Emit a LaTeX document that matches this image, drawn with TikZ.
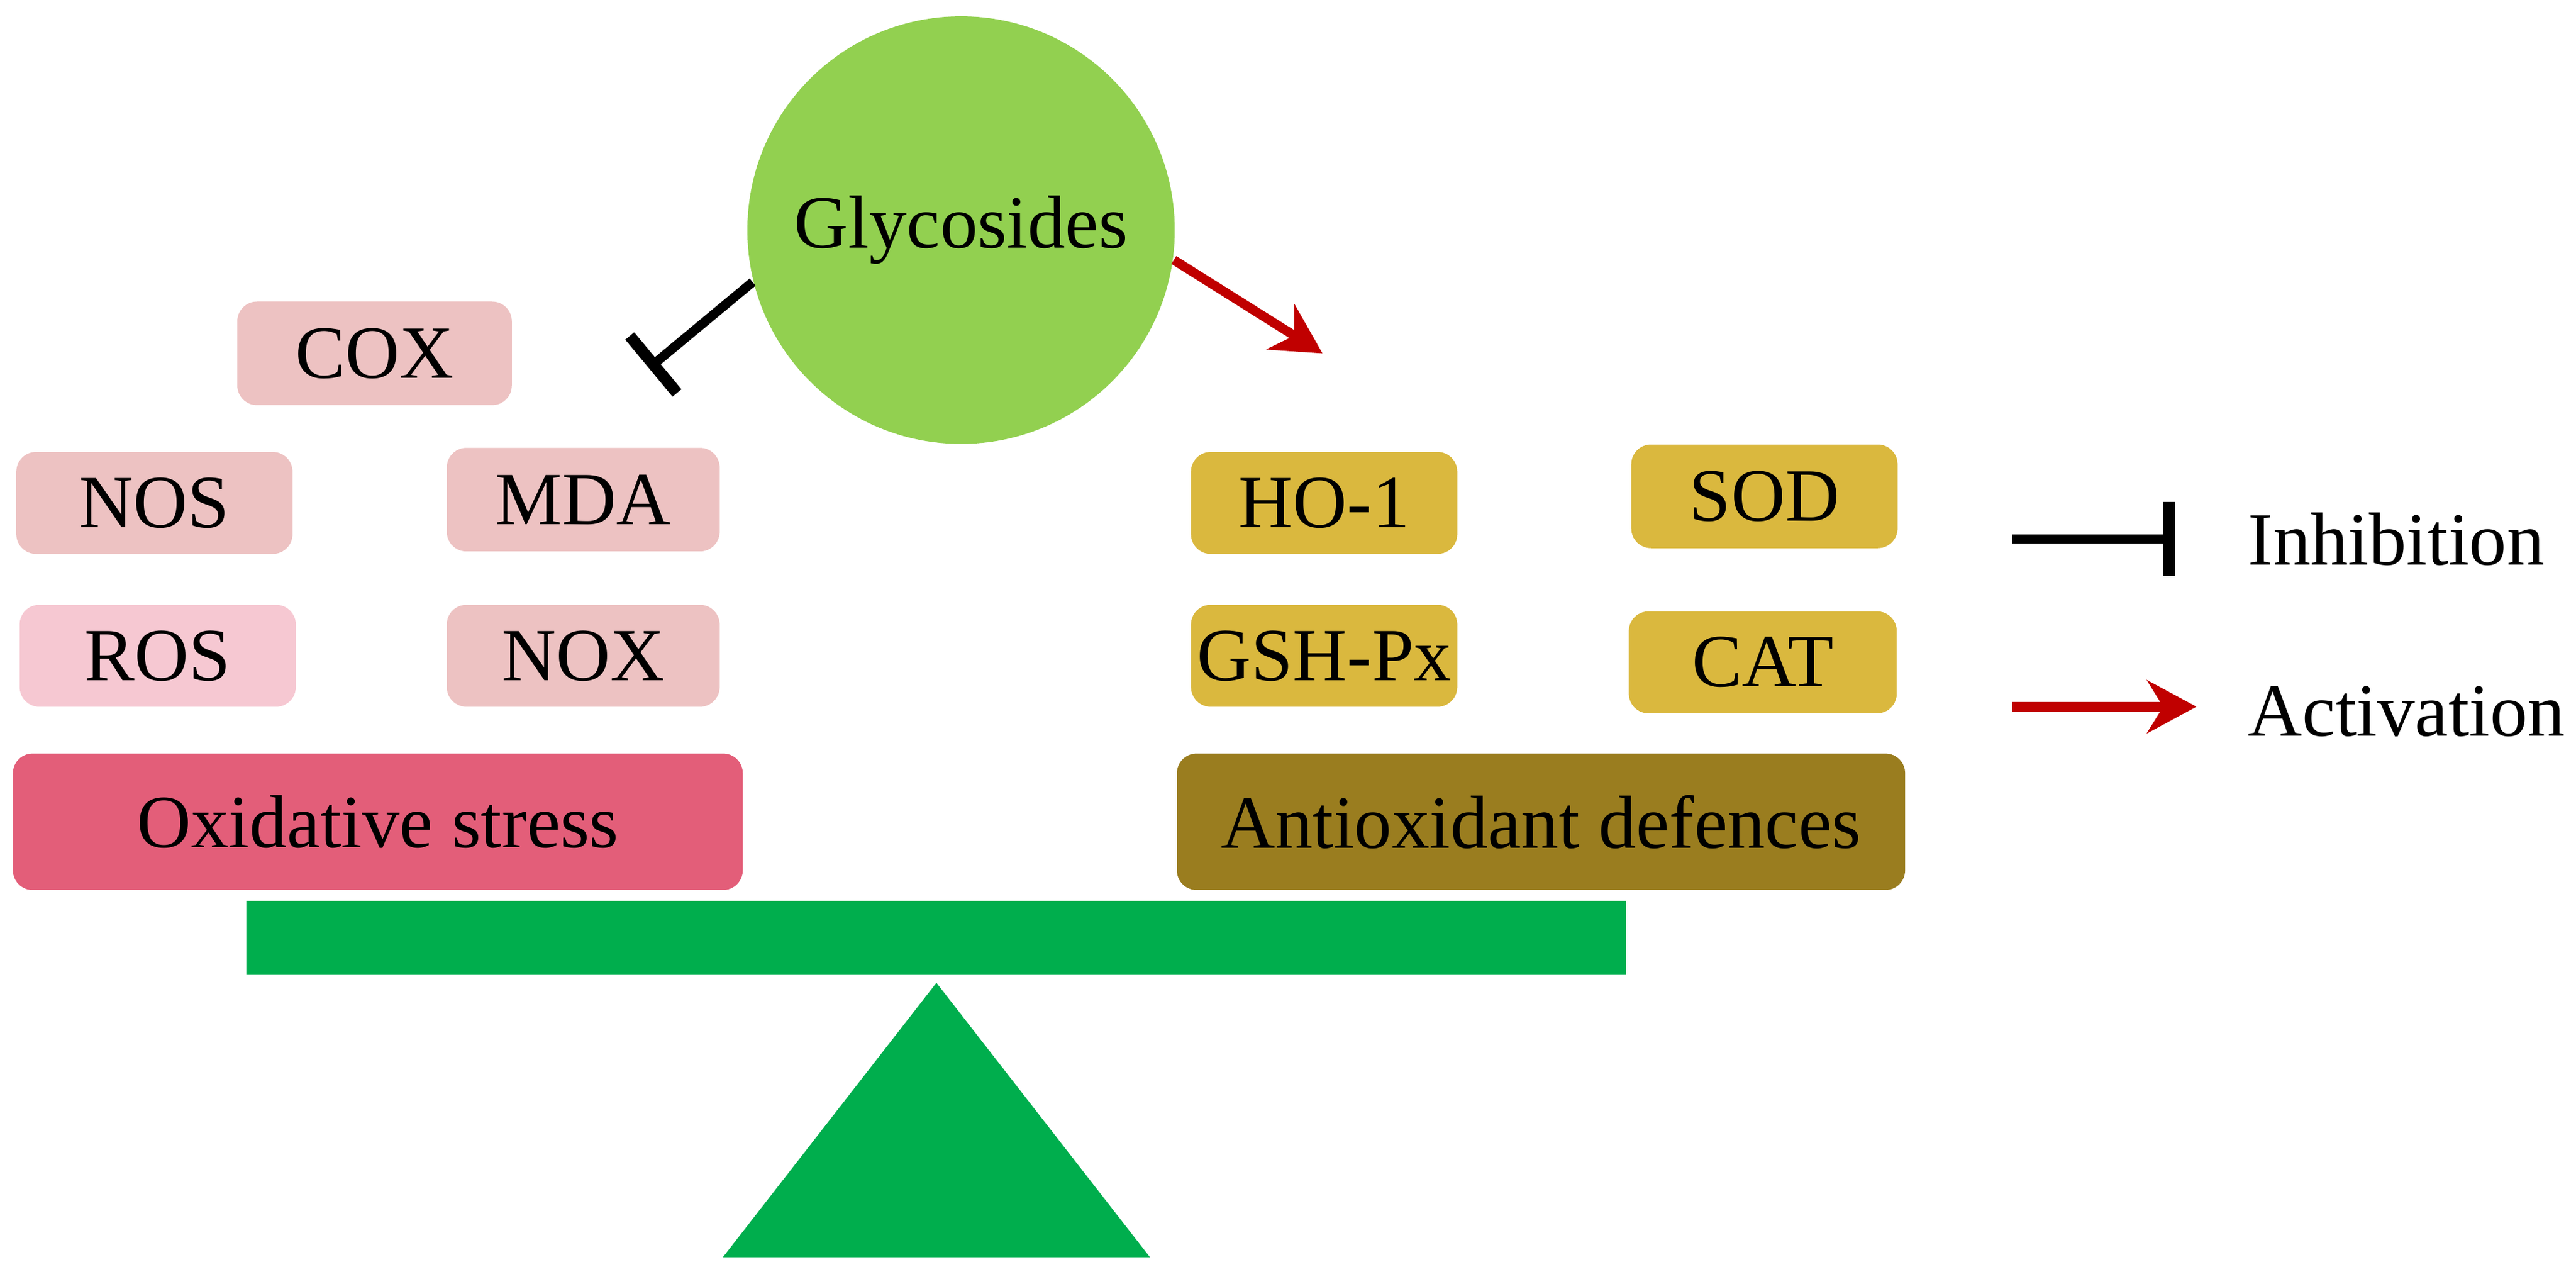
\documentclass[tikz,border=0pt]{standalone}
\usepackage{fontspec}
\setmainfont{Liberation Serif}
\usetikzlibrary{arrows.meta}
\begin{document}
\begin{tikzpicture}[x=0.01cm,y=-0.01cm,
  box/.style={rounded corners=0.12cm,inner sep=0pt,font=\fontsize{13}{15}\selectfont},
  pinkbox/.style={box,fill=pink1},
  goldbox/.style={box,fill=gold1},
  inh/.style={line width=1.6pt,-{Bar[width=0.45cm,line width=2pt]}},
  act/.style={line width=1.6pt,draw=red1,-{Stealth[length=0.3cm,width=0.32cm]}}]
\definecolor{pink1}{HTML}{EDC2C2}
\definecolor{pink2}{HTML}{F6C8D2}
\definecolor{stress}{HTML}{E35E79}
\definecolor{gold1}{HTML}{DAB83E}
\definecolor{gold2}{HTML}{9A7D1F}
\definecolor{green1}{HTML}{00AE4D}
\definecolor{gcirc}{HTML}{92D050}
\definecolor{red1}{HTML}{C00000}
\useasboundingbox (0,0) rectangle (1568,781);
\node[circle,fill=gcirc,minimum size=2.6cm,inner sep=0pt,font=\fontsize{13}{15}\selectfont] (g) at (585,140) {Glycosides};
\node[pinkbox,minimum width=1.67cm,minimum height=0.63cm] (cox) at (228,215) {COX};
\node[pinkbox,minimum width=1.68cm,minimum height=0.62cm] (nos) at (94,306) {NOS};
\node[pinkbox,minimum width=1.66cm,minimum height=0.63cm] (mda) at (355,304) {MDA};
\node[box,fill=pink2,minimum width=1.68cm,minimum height=0.62cm] (ros) at (96,399) {ROS};
\node[pinkbox,minimum width=1.66cm,minimum height=0.62cm] (nox) at (355,399) {NOX};
\node[box,fill=stress,minimum width=4.44cm,minimum height=0.83cm] (os) at (230,500) {Oxidative stress};
\node[goldbox,minimum width=1.62cm,minimum height=0.62cm] (ho) at (806,306) {HO-1};
\node[goldbox,minimum width=1.62cm,minimum height=0.63cm] (sod) at (1074,302) {SOD};
\node[goldbox,minimum width=1.62cm,minimum height=0.62cm] (gsh) at (806,399) {GSH-Px};
\node[goldbox,minimum width=1.63cm,minimum height=0.62cm] (cat) at (1073,403) {CAT};
\node[box,fill=gold2,minimum width=4.43cm,minimum height=0.83cm] (ad) at (938,500) {Antioxidant defences};
\fill[green1] (150,548) rectangle (990,593);
\fill[green1] (570,598) -- (700,765) -- (440,765) -- cycle;
\coordinate (ie) at (395,224);
\coordinate (ae) at (805,215);
\draw[inh] (g.194) -- (ie);
\draw[act] (g.-8) -- (ae);
\coordinate (l1a) at (1225,328); \coordinate (l1b) at (1324,328);
\coordinate (l2a) at (1225,430); \coordinate (l2b) at (1337,430);
\draw[inh] (l1a) -- (l1b);
\draw[act] (l2a) -- (l2b);
\node[font=\fontsize{13}{15}\selectfont,anchor=west] (ti) at (1356,328) {Inhibition};
\node[font=\fontsize{13}{15}\selectfont,anchor=west] (ta) at (1356,433) {Activation};
\end{tikzpicture}
\end{document}
